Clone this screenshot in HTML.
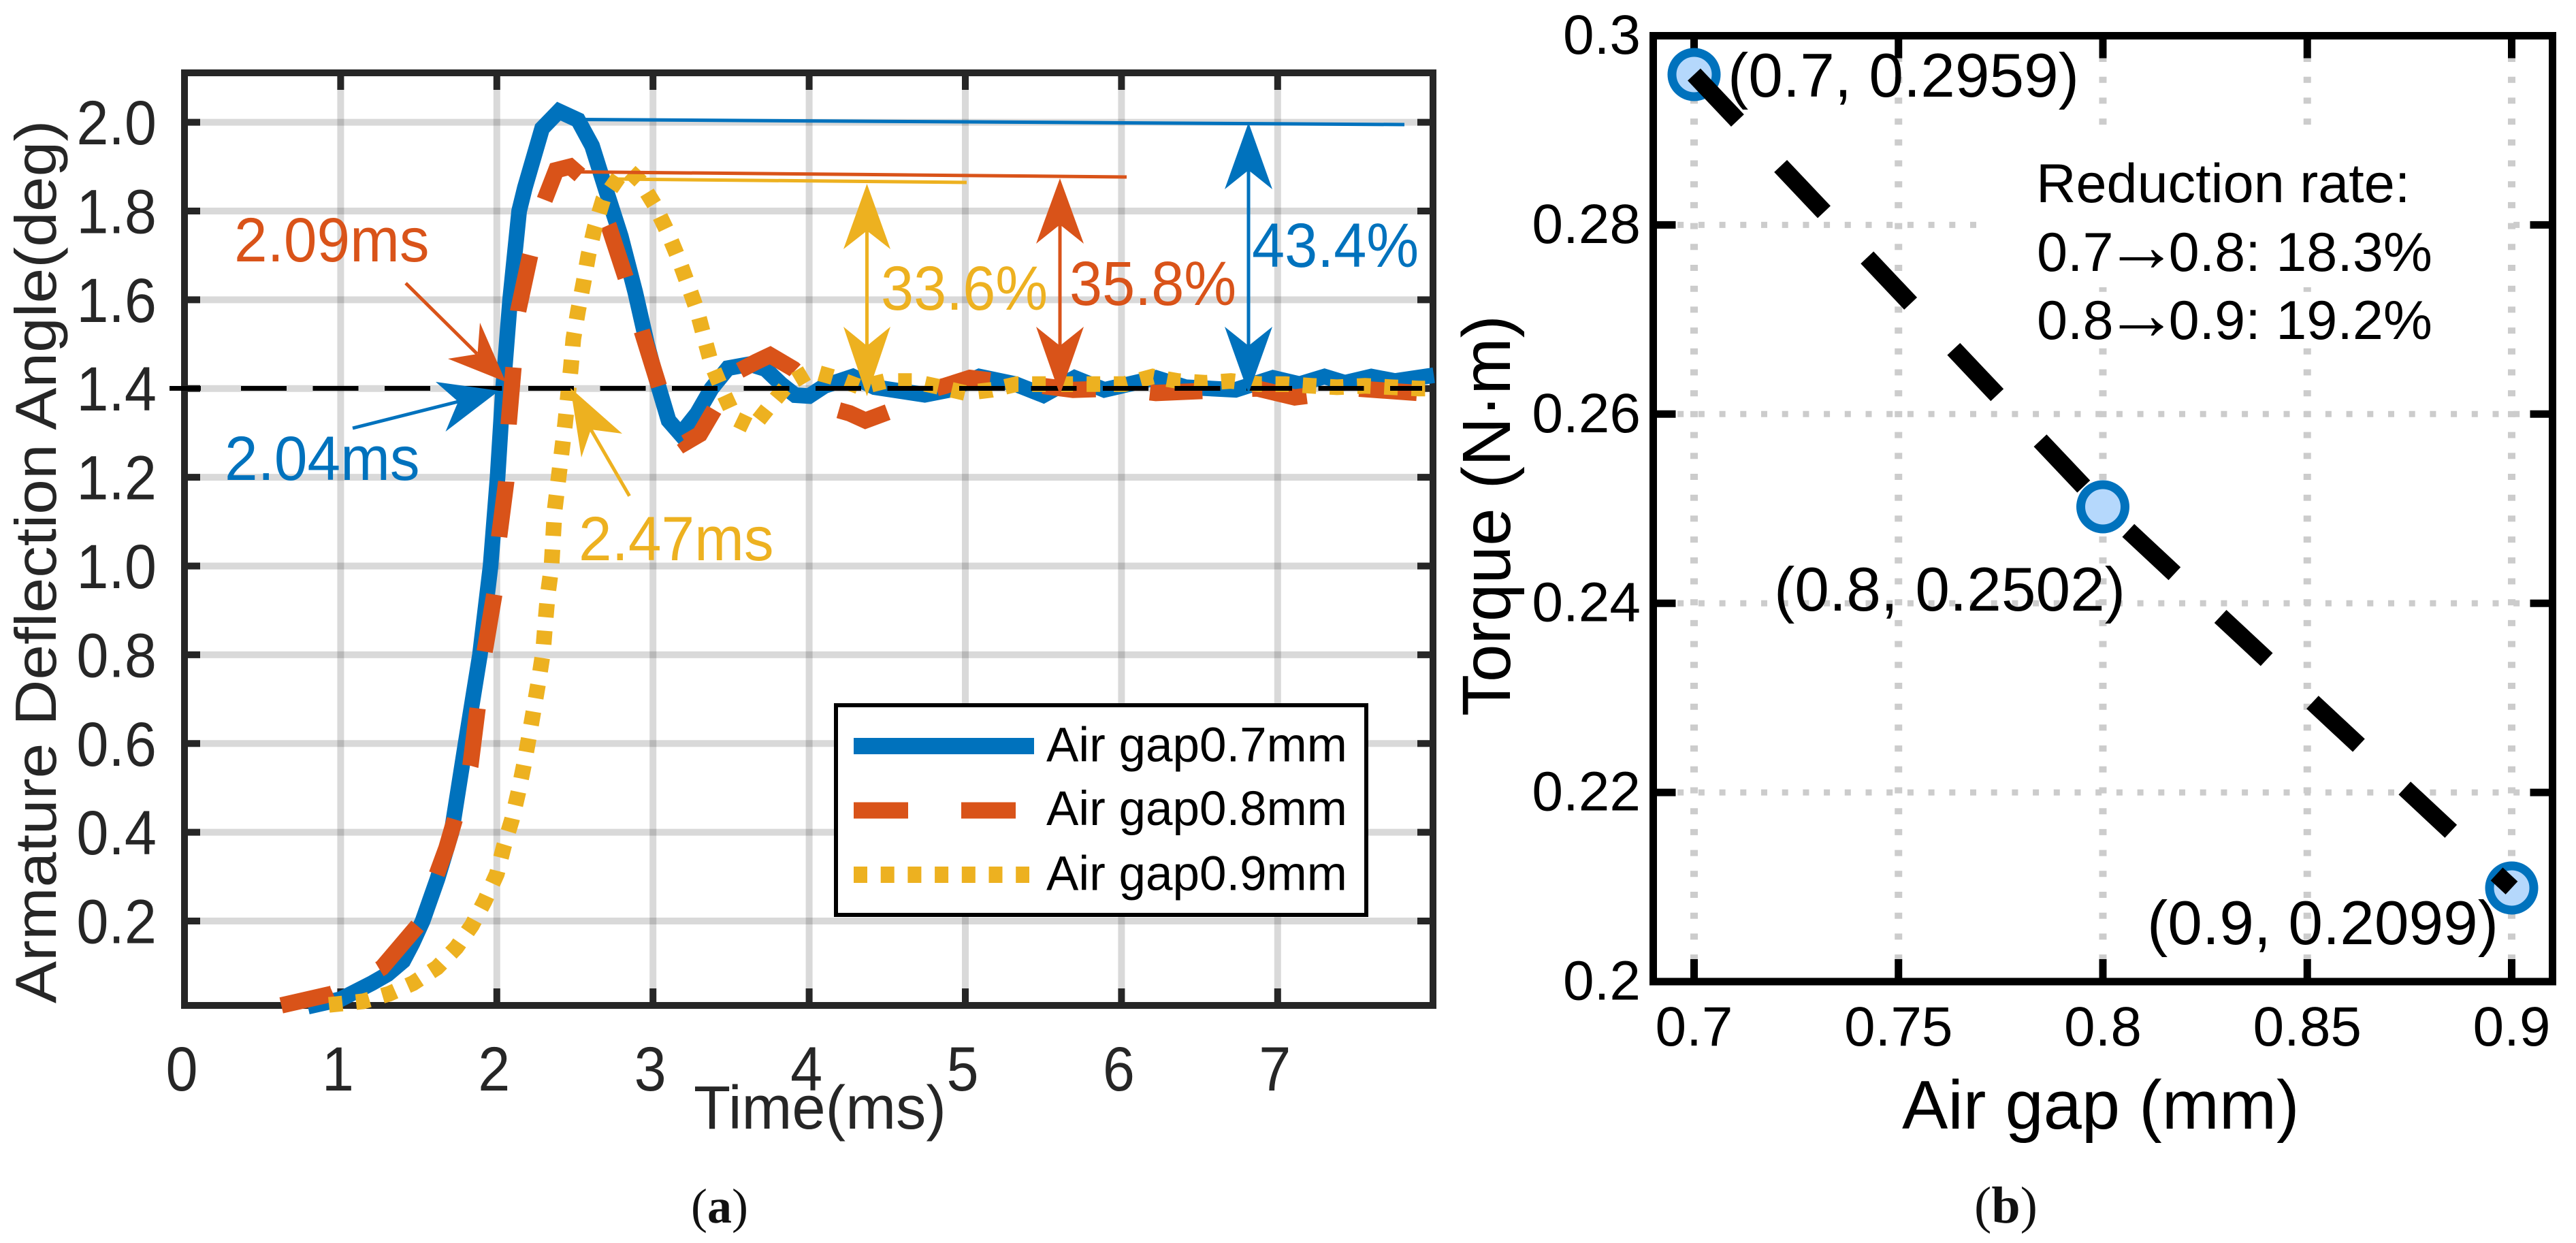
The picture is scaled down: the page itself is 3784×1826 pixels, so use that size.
<!DOCTYPE html>
<html lang="en">
<head>
<meta charset="utf-8">
<title>Armature deflection and torque vs air gap</title>
<style>
html,body{margin:0;padding:0;background:#fff;}
svg{display:block;font-family:"Liberation Sans",sans-serif;}
</style>
</head>
<body>
<svg id="fig" xmlns="http://www.w3.org/2000/svg" width="3784" height="1826" viewBox="0 0 3784 1826">
  <rect x="0" y="0" width="3784" height="1826" fill="#fff"/>
  <g id="plotA"></g>
  <g id="plotB"></g>

  <g id="annotationsA">
    <rect x="249" y="567" width="46" height="7" fill="#000"/>
    <line x1="354" y1="570.5" x2="2089" y2="570.5" stroke="#000" stroke-width="7" stroke-dasharray="67 38.5"/>

    <line x1="849" y1="175.5" x2="2063" y2="183" stroke="#0072BD" stroke-width="5"/>
    <line x1="849" y1="252.5" x2="1655" y2="260" stroke="#D95319" stroke-width="5"/>
    <line x1="905" y1="263" x2="1420" y2="268" stroke="#EDB120" stroke-width="5"/>

    <g fill="#EDB120" stroke="none">
      <rect x="1271" y="339" width="5" height="169"/>
      <polygon points="1273.5,270 1239,366 1273.5,339 1308,366"/>
      <polygon points="1239,480 1273.5,508 1308,480 1273.5,582"/>
    </g>
    <g fill="#D95319" stroke="none">
      <rect x="1554.5" y="330" width="5" height="178"/>
      <polygon points="1557,262 1522,358 1557,330 1592,358"/>
      <polygon points="1522,480 1557,508 1592,480 1557,580"/>
    </g>
    <g fill="#0072BD" stroke="none">
      <rect x="1831.5" y="250" width="5" height="258"/>
      <polygon points="1834,180 1799,278 1834,250 1869,278"/>
      <polygon points="1799,480 1834,508 1869,480 1834,578"/>
    </g>

    <g fill="#D95319">
      <line x1="596" y1="416" x2="701" y2="520" stroke="#D95319" stroke-width="5"/>
      <polygon points="743,561 705,474 701.5,520 658,527"/>
    </g>
    <g fill="#0072BD">
      <line x1="518" y1="629" x2="673" y2="590" stroke="#0072BD" stroke-width="5"/>
      <polygon points="733,574 640,561 673,590 654.5,634"/>
    </g>
    <g fill="#EDB120">
      <line x1="924.6" y1="728.6" x2="868" y2="631" stroke="#EDB120" stroke-width="5"/>
      <polygon points="838,570 854,672 868,631 914,637"/>
    </g>

    <text transform="translate(344,384) scale(.95,1)" font-size="92" fill="#D95319">2.09ms</text>
    <text transform="translate(330,705) scale(.95,1)" font-size="92" fill="#0072BD">2.04ms</text>
    <text transform="translate(850,823) scale(.95,1)" font-size="92" fill="#EDB120">2.47ms</text>
    <text transform="translate(1294,455) scale(.94,1)" font-size="92" fill="#EDB120">33.6%</text>
    <text transform="translate(1571,448) scale(.94,1)" font-size="92" fill="#D95319">35.8%</text>
    <text transform="translate(1839,392) scale(.94,1)" font-size="92" fill="#0072BD">43.4%</text>

    <text transform="translate(82,1474) rotate(-90) scale(1,.92)" font-size="93" fill="#262626">Armature Deflection Angle(deg)</text>
    <text transform="translate(1019,1658) scale(.985,1)" font-size="90" fill="#262626">Time(ms)</text>

    <g>
      <rect x="1228" y="1036" width="779" height="308" fill="#fff" stroke="#000" stroke-width="6"/>
      <line x1="1254" y1="1096" x2="1519" y2="1096" stroke="#0072BD" stroke-width="24"/>
      <line x1="1254" y1="1190.5" x2="1492" y2="1190.5" stroke="#D95319" stroke-width="24" stroke-dasharray="80 78 80"/>
      <line x1="1254" y1="1285" x2="1512" y2="1285" stroke="#EDB120" stroke-width="24" stroke-dasharray="20 19.7"/>
      <text transform="translate(1537,1118.5)" font-size="71" fill="#000">Air gap0.7mm</text>
      <text transform="translate(1537,1212)" font-size="71" fill="#000">Air gap0.8mm</text>
      <text transform="translate(1537,1307.5)" font-size="71" fill="#000">Air gap0.9mm</text>
    </g>
    <text x="1015" y="1796" font-size="72" fill="#111" style="font-family:'Liberation Serif',serif;">(<tspan font-weight="bold">a</tspan>)</text>
  </g>

  <g id="annotationsB">
    <text x="2538" y="142" font-size="91" fill="#000">(0.7, 0.2959)</text>
    <text x="2606" y="897" font-size="91" fill="#000">(0.8, 0.2502)</text>
    <text x="3154" y="1387" font-size="91" fill="#000">(0.9, 0.2099)</text>
    <text x="2991" y="297" font-size="81" fill="#000">Reduction rate:</text>
    <text x="2992" y="398" font-size="81" fill="#000">0.7<tspan font-size="108" dx="-13">→</tspan><tspan dx="-14">0.8: 18.3%</tspan></text>
    <text x="2992" y="498" font-size="81" fill="#000">0.8<tspan font-size="108" dx="-13">→</tspan><tspan dx="-14">0.9: 19.2%</tspan></text>
    <text transform="translate(2218,1052) rotate(-90)" font-size="100" fill="#000">Torque (N·m)</text>
    <text x="2794" y="1658" font-size="101" fill="#000">Air gap (mm)</text>
    <text x="2900" y="1796" font-size="76" fill="#111" style="font-family:'Liberation Serif',serif;">(<tspan font-weight="bold">b</tspan>)</text>
  </g>
</svg>

<script>
// Panel (a) data
const xTicksA = [0, 1, 2, 3, 4, 5, 6, 7];
const xTickLabelsA = ["0", "1", "2", "3", "4", "5", "6", "7"];
const yTicksA = [0.2, 0.4, 0.6, 0.8, 1.0, 1.2, 1.4, 1.6, 1.8, 2.0];
const yTickLabelsA = ["0.2", "0.4", "0.6", "0.8", "1.0", "1.2", "1.4", "1.6", "1.8", "2.0"];

const timeBlue = [0.79,1.0,1.2,1.3,1.4,1.46,1.525,1.62,1.71,1.80,1.892,1.96,2.005,2.04,2.085,2.143,2.18,2.29,2.397,2.52,2.61,2.70,2.794,2.886,2.962,3.033,3.10,3.177,3.283,3.375,3.48,3.62,3.72,3.82,3.91,4.0,4.1,4.28,4.42,4.74,4.9,5.09,5.32,5.5,5.7,5.89,6.22,6.41,6.73,6.97,7.14,7.3,7.43,7.6,7.75,8.0];
const angleBlue = [0.007,0.024,0.06,0.08,0.11,0.15,0.2,0.295,0.4,0.6,0.8,1.0,1.2,1.4,1.6,1.8,1.853,1.986,2.025,2.005,1.947,1.846,1.743,1.618,1.5,1.407,1.328,1.297,1.344,1.4,1.446,1.455,1.444,1.41,1.385,1.383,1.406,1.427,1.403,1.386,1.397,1.427,1.41,1.385,1.424,1.397,1.424,1.403,1.397,1.424,1.41,1.427,1.413,1.427,1.417,1.43];

const timeOrange = [0.62,0.944,1.1,1.265,1.495,1.678,1.831,1.877,1.922,1.984,2.015,2.06,2.076,2.107,2.137,2.213,2.306,2.38,2.47,2.6,2.716,2.825,2.93,3.04,3.12,3.207,3.3,3.405,3.55,3.66,3.75,3.9,4.0,4.1,4.26,4.36,4.52,4.7,4.87,5.03,5.19,5.4,5.69,5.95,6.22,6.55,6.87,7.11,7.22,7.5,7.9,8.0];
const angleOrange = [0.01,0.036,0.06,0.095,0.19,0.365,0.55,0.68,0.807,0.936,1.066,1.19,1.32,1.448,1.575,1.70,1.825,1.892,1.90,1.86,1.767,1.65,1.528,1.403,1.32,1.278,1.297,1.36,1.44,1.46,1.475,1.444,1.41,1.36,1.344,1.328,1.349,1.39,1.406,1.424,1.417,1.41,1.397,1.40,1.39,1.395,1.40,1.38,1.385,1.40,1.39,1.40];

const timeYellow = [0.925,1.143,1.31,1.464,1.617,1.74,1.84,1.922,2.0,2.045,2.097,2.137,2.173,2.207,2.237,2.268,2.296,2.31,2.326,2.35,2.37,2.437,2.474,2.49,2.52,2.555,2.586,2.627,2.68,2.78,2.85,2.916,3.01,3.09,3.16,3.22,3.283,3.33,3.375,3.45,3.527,3.64,3.75,3.866,4.01,4.17,4.33,4.49,4.66,4.84,5.0,5.17,5.33,5.51,5.69,5.86,6.02,6.2,6.36,6.54,6.7,6.88,7.05,7.22,7.38,7.56,7.73,7.9,8.0];
const angleYellow = [0.011,0.019,0.036,0.06,0.095,0.14,0.19,0.245,0.306,0.368,0.429,0.489,0.551,0.617,0.678,0.742,0.806,0.87,0.935,0.998,1.125,1.319,1.446,1.512,1.575,1.638,1.70,1.763,1.825,1.876,1.89,1.868,1.814,1.755,1.696,1.638,1.575,1.512,1.454,1.391,1.332,1.313,1.362,1.41,1.44,1.424,1.403,1.417,1.417,1.403,1.39,1.397,1.41,1.41,1.41,1.41,1.41,1.427,1.417,1.413,1.417,1.41,1.41,1.406,1.403,1.406,1.403,1.40,1.40];

// Panel (b) data
const xTicksB = [0.7, 0.75, 0.8, 0.85, 0.9];
const xTickLabelsB = ["0.7", "0.75", "0.8", "0.85", "0.9"];
const yTicksB = [0.2, 0.22, 0.24, 0.26, 0.28, 0.3];
const yTickLabelsB = ["0.2", "0.22", "0.24", "0.26", "0.28", "0.3"];
const airGap = [0.7, 0.8, 0.9];
const torque = [0.2959, 0.2502, 0.2099];

const NS = "http://www.w3.org/2000/svg";
function add(parent, tag, attrs, name) {
  const el = document.createElementNS(NS, tag);
  for (const k in attrs) el.setAttribute(k, attrs[k]);
  
  
  parent.appendChild(el);
  return el;
}

// Axis functions
function xA(t) { return 271 + 229.4 * t; }
function yA(v) { return 1483.4 - 651.9 * v; }
function xB(g) { return 2488.5 + 6005 * (g - 0.7); }
function yB(v) { return 1442 - 13895 * (v - 0.2); }

function polyPoints(xs, ys, fx, fy) {
  return xs.map(function (x, i) { return fx(x).toFixed(1) + "," + fy(ys[i]).toFixed(1); }).join(" ");
}

// ---- Panel (a)
const a = document.getElementById('plotA');
const INK_A = "#262626";
const leftA = 271, rightA = 2105, topA = 107, botA = 1477;

xTicksA.slice(1).forEach(function (t, i) {
  add(a, 'line', { x1: xA(t), x2: xA(t), y1: topA, y2: botA, stroke: '#000', 'stroke-opacity': 0.15, 'stroke-width': 10 }, 'x-gridline-a-' + xTickLabelsA[i + 1]);
});
yTicksA.forEach(function (v, i) {
  add(a, 'line', { x1: leftA, x2: rightA, y1: yA(v), y2: yA(v), stroke: '#000', 'stroke-opacity': 0.15, 'stroke-width': 10 }, 'y-gridline-a-' + yTickLabelsA[i]);
});
xTicksA.forEach(function (t, i) {
  add(a, 'line', { x1: xA(t), x2: xA(t), y1: botA, y2: botA - 25, stroke: INK_A, 'stroke-width': 10 }, 'x-tick-bottom-a-' + xTickLabelsA[i]);
  add(a, 'line', { x1: xA(t), x2: xA(t), y1: topA, y2: topA + 25, stroke: INK_A, 'stroke-width': 10 }, 'x-tick-top-a-' + xTickLabelsA[i]);
  const lab = add(a, 'text', { transform: 'translate(' + (xA(t) - 4) + ',1602) scale(.92,1)', 'font-size': 92, fill: INK_A, 'text-anchor': 'middle' }, 'x-tick-label-a-' + xTickLabelsA[i]);
  lab.textContent = xTickLabelsA[i];
});
yTicksA.forEach(function (v, i) {
  add(a, 'line', { x1: leftA, x2: leftA + 23, y1: yA(v), y2: yA(v), stroke: INK_A, 'stroke-width': 10 }, 'y-tick-left-a-' + yTickLabelsA[i]);
  add(a, 'line', { x1: rightA, x2: rightA - 23, y1: yA(v), y2: yA(v), stroke: INK_A, 'stroke-width': 10 }, 'y-tick-right-a-' + yTickLabelsA[i]);
  const lab = add(a, 'text', { transform: 'translate(230,' + (yA(v) + 32.5) + ') scale(.92,1)', 'font-size': 92, fill: INK_A, 'text-anchor': 'end' }, 'y-tick-label-a-' + yTickLabelsA[i]);
  lab.textContent = yTickLabelsA[i];
});
add(a, 'rect', { x: leftA, y: topA, width: rightA - leftA, height: botA - topA, fill: 'none', stroke: INK_A, 'stroke-width': 10 }, 'plot-frame-a');

add(a, 'polyline', { points: polyPoints(timeBlue, angleBlue, xA, yA), fill: 'none', stroke: '#0072BD', 'stroke-width': 23 }, 'series-air-gap-0.7mm');
add(a, 'polyline', { points: polyPoints(timeOrange, angleOrange, xA, yA), fill: 'none', stroke: '#D95319', 'stroke-width': 24, 'stroke-dasharray': '78 77 85 81 85 82 85 84 85 85 82 84 84 83 84 84 87 86 81 82 85 88 71 69 93 90 77 81 81 78 78 80 77 73 82 78 85 60' }, 'series-air-gap-0.8mm');
add(a, 'polyline', { points: polyPoints(timeYellow, angleYellow, xA, yA), fill: 'none', stroke: '#EDB120', 'stroke-width': 23, 'stroke-dasharray': '20 20' }, 'series-air-gap-0.9mm');

// ---- Panel (b)
const b = document.getElementById('plotB');
const leftB = 2428.5, rightB = 3749.5, topB = 52.5, botB = 1442;

xTicksB.forEach(function (g, i) {
  add(b, 'line', { x1: xB(g), x2: xB(g), y1: 51.3, y2: botB, stroke: '#ccc', 'stroke-width': 11, 'stroke-dasharray': '9 21.7' }, 'x-gridline-b-' + xTickLabelsB[i]);
});
yTicksB.slice(1, -1).forEach(function (v, i) {
  add(b, 'line', { x1: leftB + 5, x2: rightB, y1: yB(v), y2: yB(v), stroke: '#ccc', 'stroke-width': 9, 'stroke-dasharray': '9 21.7' }, 'y-gridline-b-' + yTickLabelsB[i + 1]);
});
add(b, 'rect', { x: 2922, y: 190, width: 759, height: 232, fill: '#fff' }, 'reduction-rate-background');
add(b, 'rect', { x: 2922, y: 432, width: 759, height: 78, fill: '#fff' }, 'reduction-rate-background-lower');

xTicksB.forEach(function (g, i) {
  add(b, 'line', { x1: xB(g), x2: xB(g), y1: botB, y2: botB - 33, stroke: '#000', 'stroke-width': 11 }, 'x-tick-bottom-b-' + xTickLabelsB[i]);
  add(b, 'line', { x1: xB(g), x2: xB(g), y1: topB, y2: topB + 33, stroke: '#000', 'stroke-width': 11 }, 'x-tick-top-b-' + xTickLabelsB[i]);
  const lab = add(b, 'text', { x: xB(g), y: 1536, 'font-size': 82, fill: '#000', 'text-anchor': 'middle' }, 'x-tick-label-b-' + xTickLabelsB[i]);
  lab.textContent = xTickLabelsB[i];
});
yTicksB.forEach(function (v, i) {
  add(b, 'line', { x1: leftB, x2: leftB + 33, y1: yB(v), y2: yB(v), stroke: '#000', 'stroke-width': 11 }, 'y-tick-left-b-' + yTickLabelsB[i]);
  add(b, 'line', { x1: rightB, x2: rightB - 33, y1: yB(v), y2: yB(v), stroke: '#000', 'stroke-width': 11 }, 'y-tick-right-b-' + yTickLabelsB[i]);
  const lab = add(b, 'text', { x: 2410, y: yB(v) + 26.5, 'font-size': 82, fill: '#000', 'text-anchor': 'end' }, 'y-tick-label-b-' + yTickLabelsB[i]);
  lab.textContent = yTickLabelsB[i];
});
add(b, 'rect', { x: leftB, y: topB, width: rightB - leftB, height: botB - topB, fill: 'none', stroke: '#000', 'stroke-width': 11 }, 'plot-frame-b');

airGap.forEach(function (g, i) {
  add(b, 'circle', { cx: xB(g), cy: yB(torque[i]), r: 32.5, fill: '#B5D8FC', stroke: '#0072BD', 'stroke-width': 13 }, 'torque-point-' + g);
});
add(b, 'polyline', { points: polyPoints(airGap, torque, xB, yB), fill: 'none', stroke: '#000', 'stroke-width': 26, 'stroke-dasharray': '93 92' }, 'torque-trend-line');
</script>
</body>
</html>
